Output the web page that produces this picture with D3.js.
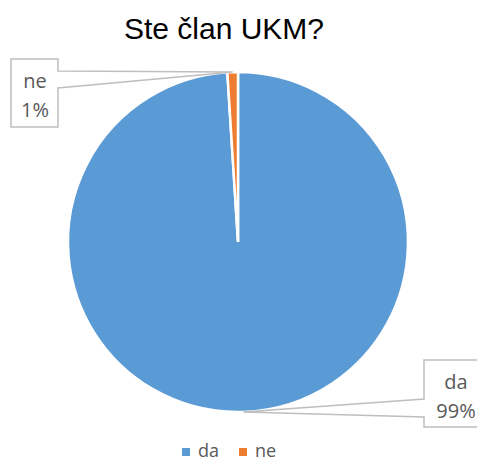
<!DOCTYPE html>
<html><head><meta charset="utf-8">
<script src="https://cdn.jsdelivr.net/npm/d3@7"></script>
<style>body{margin:0;background:#fff}svg{display:block}</style>
</head><body>
<script>
const title = "Ste član UKM?";
const categories = ["da", "ne"];
const values = [99, 1];
const labels = ["99%", "1%"];
const colors = ["#5B9BD5", "#ED7D31"];

const W = 477, H = 462, cx = 238, cy = 242, R = 170;
const svg = d3.select("body").append("svg").attr("width", W).attr("height", H);

svg.append("text").attr("x", 224).attr("y", 39).attr("text-anchor", "middle")
  .attr("font-family", "Liberation Sans, Arial, sans-serif").attr("font-size", 30)
  .attr("fill", "#000").text(title);

const data = categories.map((c, i) => ({cat: c, v: values[i], lab: labels[i], col: colors[i]}));
const pie = d3.pie().value(d => d.v).sort(null);
const arcs = pie(data);
const arc = d3.arc().innerRadius(0).outerRadius(R);
const g = svg.append("g").attr("transform", `translate(${cx},${cy})`);
g.selectAll("path").data(arcs).join("path").attr("d", arc)
  .attr("fill", d => d.data.col).attr("stroke", "#fff").attr("stroke-width", 2.5).attr("stroke-linejoin", "miter");

// callouts (layout boxes)
const boxes = {
  da: {x0: 424, x1: 479, y0: 360, y1: 427, side: "left", a: 399, b: 417},
  ne: {x0: 11, x1: 58, y0: 59, y1: 127, side: "right", a: 71, b: 88}
};
arcs.forEach(d => {
  const m = (d.startAngle + d.endAngle) / 2;
  const tx = cx + R * Math.sin(m), ty = cy - R * Math.cos(m);
  const b = boxes[d.data.cat];
  let pts;
  if (b.side === "right") {
    pts = [[b.x0,b.y0],[b.x1,b.y0],[b.x1,b.a],[tx,ty],[b.x1,b.b],[b.x1,b.y1],[b.x0,b.y1]];
  } else {
    pts = [[b.x0,b.y0],[b.x1,b.y0],[b.x1,b.y1],[b.x0,b.y1],[b.x0,b.b],[tx,ty],[b.x0,b.a]];
  }
  svg.append("polygon").attr("points", pts.map(p => p.join(",")).join(" "))
    .attr("fill", "#fff").attr("stroke", "#BFBFBF").attr("stroke-width", 1.5);
  const mx = d.data.cat === "da" ? 456 : 35;
  const t = svg.append("text").attr("text-anchor", "middle")
    .attr("font-family", "Open Sans, sans-serif").attr("font-size", 20).attr("fill", "#595959");
  t.append("tspan").attr("x", mx).attr("y", (b.y0 + b.y1) / 2 - 5).text(d.data.cat);
  t.append("tspan").attr("x", mx).attr("y", (b.y0 + b.y1) / 2 + 24).text(d.data.lab);
});

// legend
const leg = [{x: 182}, {x: 239}];
data.forEach((d, i) => {
  svg.append("rect").attr("x", leg[i].x).attr("y", 448).attr("width", 8).attr("height", 8).attr("fill", d.col);
  svg.append("text").attr("x", leg[i].x + 16).attr("y", 457)
    .attr("font-family", "Open Sans, sans-serif").attr("font-size", 18).attr("fill", "#595959").text(d.cat);
});
</script>
</body></html>
